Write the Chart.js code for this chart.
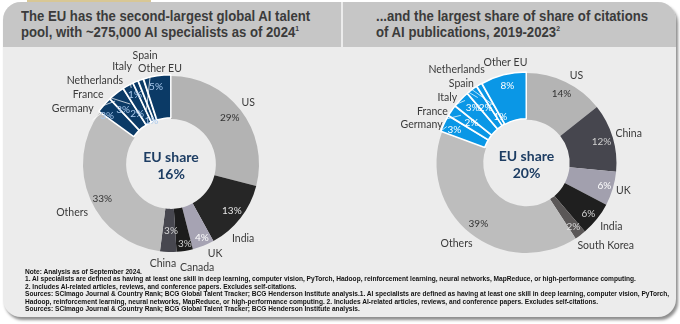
<!DOCTYPE html>
<html>
<head>
<meta charset="utf-8">
<script src="https://cdn.jsdelivr.net/npm/chart.js@4"></script>
<style>
  html, body { margin: 0; padding: 0; background: #fff; width: 680px; height: 324px; overflow: hidden; }
  #tab { position: absolute; left: 27px; top: 0; width: 124px; height: 2px; background: #d8c795; }
  #card {
    position: absolute; left: 3px; top: 2px; width: 673px; height: 315px;
    background: #ececec; border-radius: 18px; overflow: hidden;
    box-shadow: 2px 3px 3px rgba(0,0,0,0.45);
  }
  .head {
    position: absolute; top: 0; height: 45px; background: #c6c6c6;
    font-family: "Liberation Sans Narrow", "Liberation Sans", sans-serif; font-weight: bold;
    font-size: 15.5px; line-height: 16px; color: #3b3b3b; box-sizing: border-box; padding-top: 6px;
    white-space: nowrap;
  }
  .head span { display: inline-block; transform-origin: 0 50%; }
  .head sup { font-size: 8px; line-height: 0; vertical-align: 6px; }
  #h1 { left: 0; width: 338px; padding-left: 18px; }
  #h2 { left: 340px; width: 333px; padding-left: 33px; }
  canvas { position: absolute; top: 45px; }
  #talent { left: 0; }
  #citations { left: 340px; }
  #notes {
    position: absolute; left: 22px; top: 266px;
    font-family: "Liberation Sans Narrow", sans-serif; font-weight: bold; font-size: 7px; line-height: 7.4px;
    color: #111; white-space: nowrap; transform-origin: 0 0;
  }
</style>
</head>
<body>
<div id="tab"></div>
<div id="card">
  <div class="head" id="h1"><span>The EU has the second-largest global AI talent</span><br><span>pool, with ~275,000 AI specialists as of 2024<sup>1</sup></span></div>
  <div class="head" id="h2"><span>...and the largest share of share of citations</span><br><span>of AI publications, 2019-2023<sup>2</sup></span></div>
  <canvas id="talent" width="338" height="232"></canvas>
  <canvas id="citations" width="333" height="232"></canvas>
  <div id="notes">Note: Analysis as of September 2024.<br>1. AI specialists are defined as having at least one skill in deep learning, computer vision, PyTorch, Hadoop, reinforcement learning, neural networks, MapReduce, or high-performance computing.<br>2. Includes AI-related articles, reviews, and conference papers. Excludes self-citations.<br>Sources: SCImago Journal &amp; Country Rank; BCG Global Talent Tracker; BCG Henderson Institute analysis.1. AI specialists are defined as having at least one skill in deep learning, computer vision, PyTorch,<br>Hadoop, reinforcement learning, neural networks, MapReduce, or high-performance computing. 2. Includes AI-related articles, reviews, and conference papers. Excludes self-citations.<br>Sources: SCImago Journal &amp; Country Rank; BCG Global Talent Tracker; BCG Henderson Institute analysis.</div>
</div>

<script>
// AI talent pool, share of specialists (%)
var talentLabels = ['US', 'India', 'UK', 'Canada', 'China', 'Others',
  'Germany', 'France', 'Netherlands', 'Italy', 'Spain', 'Other EU'];
var talentShares = [29, 13, 4, 3, 3, 33, 3, 3, 2, 1, 1, 5];
var talentEuShare = 16;

// share of citations of AI publications, 2019-2023 (%)
var citeLabels = ['US', 'China', 'UK', 'India', 'South Korea', 'Others',
  'Germany', 'France', 'Italy', 'Spain', 'Netherlands', 'Other EU'];
var citeShares = [14, 12, 6, 6, 2, 39, 3, 2, 3, 2, 1, 8];
var citeEuShare = 20;

// first index of the EU slices in both lists
var euStart = 6;

var talentColors = ['#b3b3b3', '#262626', '#a6a3b3', '#1c1c1c', '#47474f', '#bcbcbc'];
var citeColors = ['#b4b4b4', '#46464e', '#a2a0ae', '#1f1f1f', '#5a5757', '#bdbdbd'];

// label placement: [angle in degrees clockwise from top, radius]
// names: radius as a multiple of the outer radius
// values: radius as a fraction of the ring thickness
var talentNameAt = [[51.6, 1.12], [136, 1.18], [153.7, 1.13], [165.8, 1.21], [184.6, 1.14], [244, 1.25],
  [299.3, 1.28], [310.1, 1.23], [317.5, 1.28], [333.2, 1.235], [346.6, 1.27], [353.4, 1.09]];
var talentValueAt = [[52, 0.69], [127.6, 0.74], [157.3, 0.82], [170.1, 0.84], [180, 0.5], [243, 0.75],
  [306.9, 0.81], [318.4, 0.63], [325.8, 0.36], [332.4, 0.76], [335.7, 0.06], [349, 0.78]];
var talentValueColors = ['#333', '#e6e6e6', '#fff', '#cfcfcf', '#d8d8d8', '#333',
  '#a9c9ee', '#a9c9ee', '#a9c9ee', '#a9c9ee', '#a9c9ee', '#a9c9ee'];

var citeNameAt = [[29.9, 1.115], [74.1, 1.18], [106.1, 1.12], [127, 1.18], [136.1, 1.27], [220.8, 1.19],
  [289.9, 1.24], [298.5, 1.19], [309.4, 1.14], [320.6, 1.14], [323.3, 1.3], [348.1, 1.135]];
var citeValueAt = [[26.9, 0.73], [74.4, 0.74], [106.4, 0.81], [129.4, 0.79], [143.7, 0.77], [218.2, 0.74],
  [294.6, 0.77], [306, 0.53], [315.5, 0.72], [323.3, 0.54], [330.5, 0.21], [346.1, 0.77]];
var citeValueColors = ['#333', '#d0d0d0', '#fff', '#d6d6d6', '#dcdcdc', '#333',
  '#fff', '#fff', '#fff', '#fff', '#fff', '#fff'];

var ringLabels = {
  id: 'ringLabels',
  afterDatasetsDraw: function(chart, args, opts) {
    var ctx = chart.ctx;
    var meta = chart.getDatasetMeta(0);
    var p = meta.data[0].getProps(['x', 'y', 'outerRadius', 'innerRadius'], true);
    var R = p.outerRadius, r = p.innerRadius;
    var values = chart.data.datasets[0].data;
    var names = chart.data.labels;
    function pt(deg, rad) {
      var a = (deg - 90) * Math.PI / 180;
      return [p.x + Math.cos(a) * rad, p.y + Math.sin(a) * rad];
    }
    ctx.save();

    // white leader lines inside the EU block, stopping short of the value
    ctx.strokeStyle = 'rgba(255,255,255,0.8)';
    ctx.lineWidth = 0.9;
    for (var i = euStart; i < values.length - 1; i++) {
      var a = pt(opts.nameAt[i][0], R + 2);
      var b = pt(opts.valueAt[i][0], r + (R - r) * Math.min(opts.valueAt[i][1] + 0.28, 0.95));
      ctx.beginPath();
      ctx.moveTo(a[0], a[1]);
      ctx.lineTo(b[0], b[1]);
      ctx.stroke();
    }

    ctx.textAlign = 'center';
    ctx.textBaseline = 'middle';
    ctx.font = '10px Lato';
    values.forEach(function(v, i) {
      var q = pt(opts.valueAt[i][0], r + (R - r) * opts.valueAt[i][1]);
      ctx.fillStyle = opts.valueColors[i];
      ctx.fillText(v + '%', q[0], q[1]);
    });

    ctx.font = '10.5px Lato';
    ctx.fillStyle = '#3a3a3a';
    names.forEach(function(n, i) {
      var q = pt(opts.nameAt[i][0], R * opts.nameAt[i][1]);
      ctx.fillText(n, q[0], q[1]);
    });

    ctx.font = 'bold 14px Lato';
    ctx.fillStyle = '#1d3d63';
    ctx.fillText('EU share', p.x, p.y - 7);
    ctx.fillText(opts.euShare + '%', p.x, p.y + 10);
    ctx.restore();
  }
};

function makeDonut(id, labels, shares, colors, euColor, radius, cutout, padding, extra) {
  var bg = labels.map(function(l, i) { return i < euStart ? colors[i] : euColor; });
  var borders = labels.map(function(l, i) { return i < euStart ? 0 : 1.5; });
  var offsets = labels.map(function(l, i) { return i < euStart ? 0 : 3; });
  return new Chart(document.getElementById(id).getContext('2d'), {
    type: 'doughnut',
    data: {
      labels: labels,
      datasets: [{
        data: shares,
        backgroundColor: bg,
        borderColor: '#ffffff',
        borderWidth: borders,
        offset: offsets
      }]
    },
    options: {
      responsive: false,
      animation: false,
      radius: radius,
      cutout: cutout,
      layout: { padding: padding },
      plugins: {
        legend: { display: false },
        tooltip: { enabled: false },
        ringLabels: extra
      }
    },
    plugins: [ringLabels]
  });
}

// squeeze text to the condensed widths of the original type
function squeeze(els, width) {
  var k = width / els[0].getBoundingClientRect().width;
  els.forEach(function(el) { el.style.transform = 'scaleX(' + k.toFixed(3) + ')'; });
}
squeeze(Array.from(document.querySelectorAll('#h1 span')), 289);
squeeze(Array.from(document.querySelectorAll('#h2 span')), 272);
squeeze([document.getElementById('notes')], 644);

makeDonut('talent', talentLabels, talentShares, talentColors, '#0b3a66', 88, '51%',
  { left: 10, right: 12, top: 20, bottom: 18 },
  { nameAt: talentNameAt, valueAt: talentValueAt, valueColors: talentValueColors, euShare: talentEuShare });

makeDonut('citations', citeLabels, citeShares, citeColors, '#0a97e6', 90, '48%',
  { left: 40, right: 6, top: 15, bottom: 15 },
  { nameAt: citeNameAt, valueAt: citeValueAt, valueColors: citeValueColors, euShare: citeEuShare });
</script>
</body>
</html>
